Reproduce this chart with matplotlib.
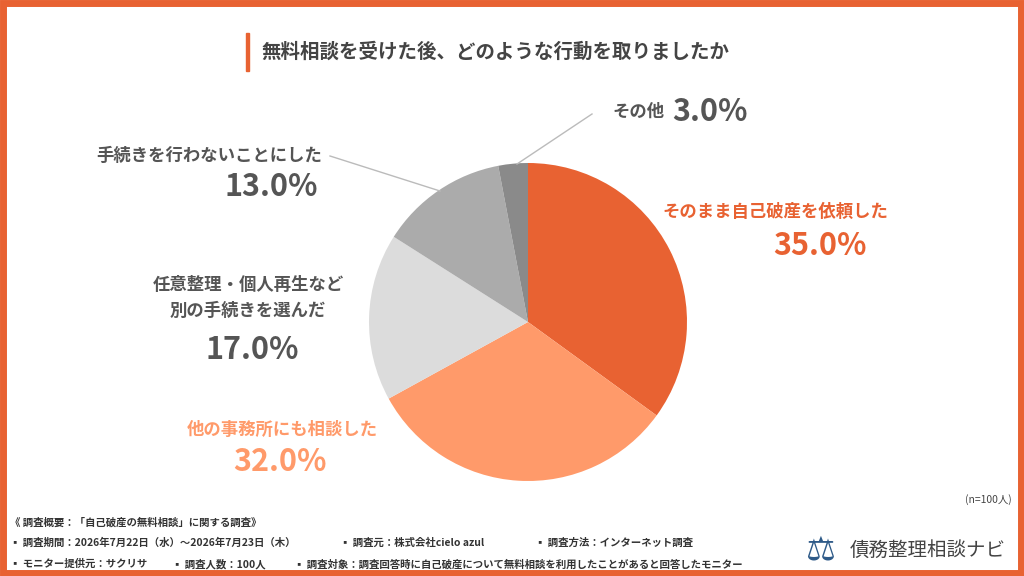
import matplotlib.pyplot as plt
from matplotlib.patches import Rectangle

plt.rcParams['font.family'] = ['Noto Sans CJK JP', 'DejaVu Sans']

labels = ["そのまま自己破産を依頼した", "他の事務所にも相談した", "任意整理・個人再生など\n別の手続きを選んだ",
          "手続きを行わないことにした", "その他"]
values = [35.0, 32.0, 17.0, 13.0, 3.0]
colors = ["#E86232", "#FF9A6A", "#DCDCDC", "#ABABAB", "#8A8A8A"]

fig = plt.figure(figsize=(10.24, 5.76), dpi=100)
ax = fig.add_axes([0, 0, 1, 1])

ax.pie(values, colors=colors, startangle=90, counterclock=False,
       center=(528, 254), radius=159, wedgeprops=dict(lw=0), frame=True)
ax.set_xlim(0, 1024)
ax.set_ylim(0, 576)
ax.set_aspect('equal')
ax.axis('off')

ax.add_patch(Rectangle((3, 3), 1018, 570, fill=False, ec="#E86232", lw=5))
ax.add_patch(Rectangle((246, 505), 3, 38, color="#E86232"))
ax.text(262, 524, "無料相談を受けた後、どのような行動を取りましたか", fontsize=14,
        fontweight='bold', color="#444444", va='center')

gray = "#555555"
orange = "#E86232"
# label, pct, label x, label y, pct x, pct y, color, ha
specs = [
    (labels[0], values[0], 775, 364, 820, 330, orange, 'center'),
    (labels[1], values[1], 282, 146, 280, 114, "#FF9A6A", 'center'),
    (labels[2], values[2], 248, 278, 252, 226, gray, 'center'),
    (labels[3], values[3], 322, 420, 318, 389, gray, 'right'),
]
for lab, v, x, y, px, py, c, ha in specs:
    ax.text(x, y, lab, fontsize=12.5, fontweight='bold', color=c, ha=ha, va='center',
            linespacing=1.6)
    ax.text(px, py, f"{v:.1f}%", fontsize=22, fontweight='bold', color=c,
            ha='center' if ha == 'center' else 'right', va='center')
ax.text(612, 464, labels[4], fontsize=12.5, fontweight='bold', color=gray, ha='left', va='center')
ax.text(672, 464, f"{values[4]:.1f}%", fontsize=22, fontweight='bold', color=gray,
        ha='left', va='center')

ax.plot([330, 440], [420, 385], color="#BBBBBB", lw=1)
ax.plot([517, 592], [412, 462], color="#BBBBBB", lw=1)

ax.text(1012, 76, "(n=100人)", fontsize=7.5, color="#444444", ha='right', va='center')
foot = [
    (10, 54, "《 調査概要：「自己破産の無料相談」に関する調査》"),
    (10, 33, "▪ 調査期間：2026年7月22日（水）～2026年7月23日（木）"),
    (340, 33, "▪ 調査元：株式会社cielo azul"),
    (535, 33, "▪ 調査方法：インターネット調査"),
    (10, 12, "▪ モニター提供元：サクリサ"),
    (172, 12, "▪ 調査人数：100人"),
    (294, 12, "▪ 調査対象：調査回答時に自己破産について無料相談を利用したことがあると回答したモニター"),
]
for x, y, t in foot:
    ax.text(x, y, t, fontsize=7.5, fontweight='bold', color="#333333", va='center')
ax.text(820, 26, "⚖", fontsize=24, color="#2E5A88", ha='center', va='center',
        family=['DejaVu Sans'])
ax.text(850, 26, "債務整理相談ナビ", fontsize=14, color="#444444", va='center')

fig.savefig("out.png", dpi=100)
